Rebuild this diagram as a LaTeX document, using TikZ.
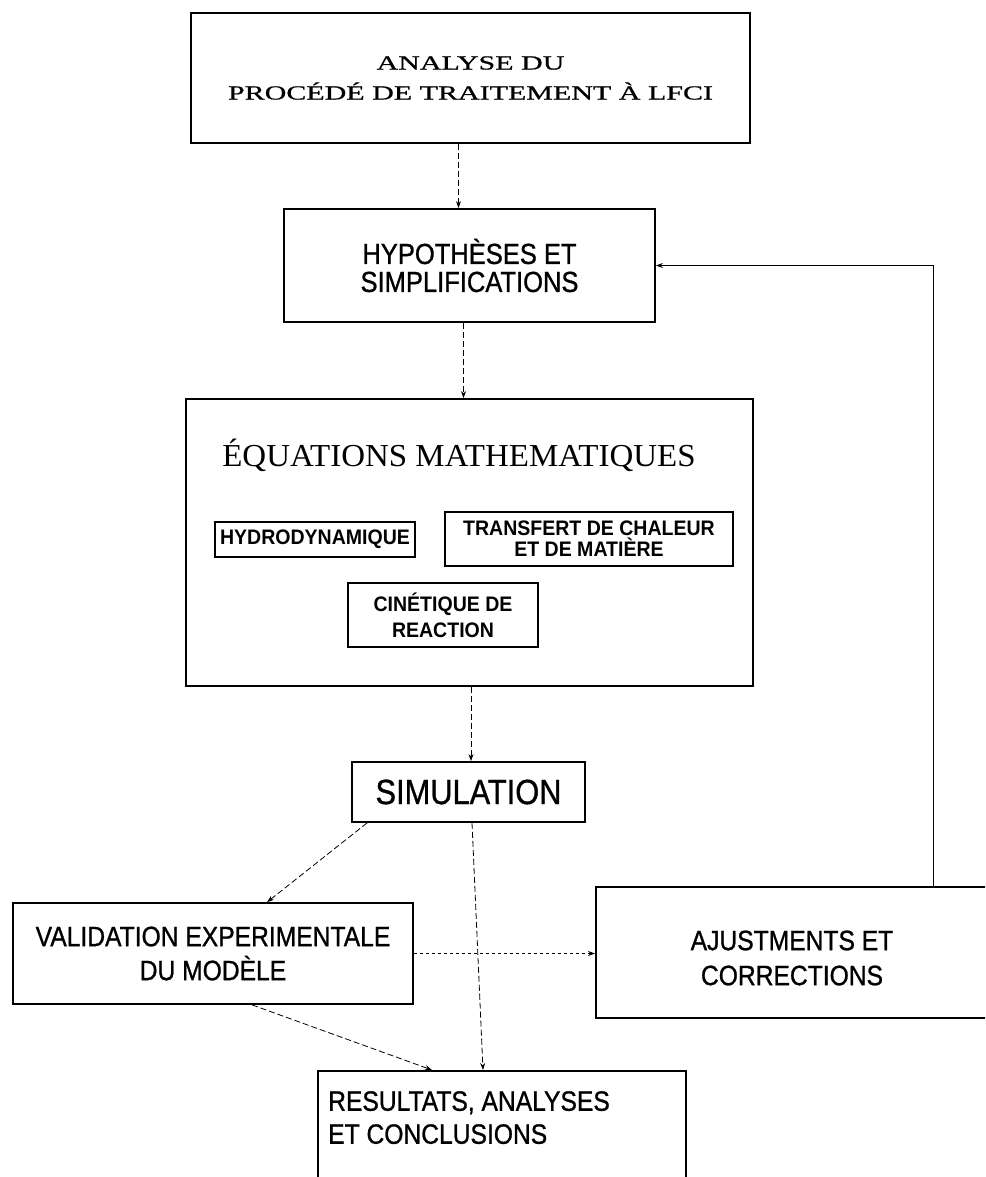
\documentclass[tikz,border=0pt]{standalone}
\usepackage{fontspec}
\setmainfont{Liberation Serif}
\newfontfamily\headfont[FakeStretch=1.5,FakeBold=0.8]{Liberation Serif}
\newfontfamily\titlefont[FakeStretch=1.03]{Liberation Serif}
\newfontfamily\boxfont[FakeStretch=0.88,FakeBold=0.9]{Liberation Sans}
\newfontfamily\subfont[FakeStretch=0.93]{Liberation Sans}
\usetikzlibrary{positioning,arrows.meta}

\tikzset{
  mainbox/.style={rectangle,draw,line width=1.8pt,inner sep=0pt,align=center},
  subbox/.style={rectangle,draw,line width=1.1pt,inner sep=0pt,align=center},
  link/.style={-{Stealth[length=7pt,width=5pt]},line width=0.8pt,dash pattern=on 6pt off 3pt},
  dotlink/.style={-{Stealth[length=7pt,width=5pt]},line width=1.4pt,dash pattern=on 3pt off 3pt},
  backlink/.style={-{Stealth[length=7pt,width=5pt]},line width=0.9pt},
}

\begin{document}
\begin{tikzpicture}[x=1pt,y=-1pt]
  \useasboundingbox (0,0) rectangle (985,1177);
  \clip (0,0) rectangle (985,1177);

  % Analyse
  \node[mainbox,minimum width=559,minimum height=130,
    font=\headfont\fontsize{20}{30}\selectfont] (analyse) at (470.5,78)
    {ANALYSE DU\\PROCÉDÉ DE TRAITEMENT À LFCI};

  % Hypotheses
  \node[mainbox,minimum width=371,minimum height=113,
    font=\boxfont\fontsize{29}{28}\selectfont] (hypo) at (469.5,265.5)
    {HYPOTHÈSES ET\\SIMPLIFICATIONS};

  % Equations block
  \node[mainbox,minimum width=567,minimum height=287] (eq) at (469.5,542.5) {};
  \node[anchor=base,inner sep=0pt,font=\titlefont\fontsize{32}{36}\selectfont] (eqtitle) at (459,466)
    {ÉQUATIONS MATHEMATIQUES};
  \node[subbox,minimum width=200,minimum height=35,
    font=\subfont\bfseries\fontsize{21}{24}\selectfont] (hydro) at (315,539.5)
    {HYDRODYNAMIQUE};
  \node[subbox,minimum width=288,minimum height=54,
    font=\subfont\bfseries\fontsize{21}{21}\selectfont] (transfert) at (589,539)
    {TRANSFERT DE CHALEUR\\ET DE MATIÈRE};
  \node[subbox,minimum width=190,minimum height=64,
    font=\subfont\bfseries\fontsize{21}{26}\selectfont] (cinetique) at (443,615)
    {CINÉTIQUE DE\\REACTION};

  % Simulation
  \node[mainbox,minimum width=233,minimum height=60,
    font=\boxfont\fontsize{35}{40}\selectfont] (sim) at (468.5,792)
    {SIMULATION};

  % Validation and adjustments
  \node[mainbox,minimum width=400,minimum height=101,
    font=\boxfont\fontsize{28}{34}\selectfont] (valid) at (213,953.5)
    {VALIDATION EXPERIMENTALE\\DU MODÈLE};
  \node[mainbox,anchor=west,minimum width=420,minimum height=131] (ajust) at (595,952.5) {};
  \node[align=center,inner sep=0pt,font=\boxfont\fontsize{28}{35}\selectfont] (ajusttext) at (792,958)
    {AJUSTMENTS ET\\CORRECTIONS};

  % Results
  \node[mainbox,anchor=north west,minimum width=368,minimum height=200] (result) at (317,1070) {};
  \node[anchor=north west,inner sep=0pt,align=left,font=\boxfont\fontsize{28}{33}\selectfont] (restext) at (328,1091)
    {RESULTATS, ANALYSES\\ET CONCLUSIONS};

  % Connections
  \draw[link] ([xshift=-12]analyse.south) -- ([xshift=-11]hypo.north);
  \draw[link] ([xshift=-6]hypo.south) -- ([xshift=-6]eq.north);
  \draw[link] ([xshift=1.5]eq.south) -- ([xshift=2.5]sim.north);
  \draw[link] ([xshift=16]sim.south west) -- ([xshift=255]valid.north west);
  \draw[link] ([xshift=3.5]sim.south) -- ([xshift=166]result.north west);
  \draw[dotlink] (valid.east) -- (valid.east -| ajust.west);
  \draw[link] ([xshift=240]valid.south west) -- ([xshift=115]result.north west);

  % Feedback loop
  \draw[backlink] ([xshift=338]ajust.north west) |- (hypo.east);
\end{tikzpicture}
\end{document}
